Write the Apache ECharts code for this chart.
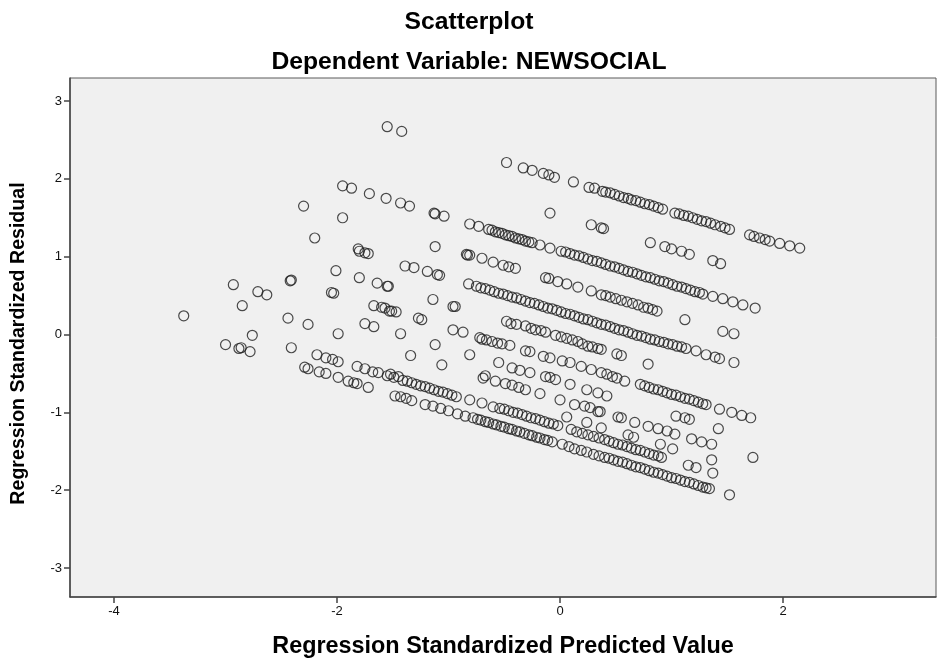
<!DOCTYPE html>
<html>
<head>
<meta charset="utf-8">
<script src="https://cdn.jsdelivr.net/npm/echarts@6/dist/echarts.min.js"></script>
<style>
  html, body { margin: 0; padding: 0; background: #ffffff; }
  #chart { width: 938px; height: 660px; }
</style>
</head>
<body>
<div id="chart"></div>
<script>
// Standardized predicted value vs standardized residual, one array per
// observed NEWSOCIAL score (each score forms its own diagonal band).
const level1 = [
  [-1.55,2.67],[-1.42,2.61],[-0.48,2.21],[-0.33,2.14],[-0.25,2.11],[-0.15,2.07],[-0.10,2.05],[-0.05,2.02],
  [0.12,1.96],[0.26,1.89],[0.31,1.88],[0.38,1.84],[0.41,1.83],[0.45,1.82],[0.49,1.80],[0.53,1.78],[0.57,1.76],
  [0.61,1.75],[0.64,1.73],[0.68,1.72],[0.72,1.70],[0.76,1.68],[0.80,1.67],[0.84,1.65],[0.88,1.63],[0.92,1.61],
  [1.03,1.56],[1.07,1.55],[1.11,1.53],[1.15,1.52],[1.19,1.50],[1.23,1.48],[1.27,1.46],[1.31,1.45],[1.35,1.43],
  [1.39,1.41],[1.44,1.39],[1.48,1.37],[1.52,1.35],[1.70,1.28],[1.74,1.26],[1.79,1.24],[1.84,1.22],[1.88,1.20],
  [1.97,1.17],[2.06,1.14],[2.15,1.11]
];
const level2 = [
  [-0.09,1.56],[0.28,1.41],[0.37,1.37],[0.39,1.36],[0.81,1.18],[0.94,1.13],[1.00,1.10],[1.09,1.07],[1.16,1.03],
  [1.37,0.95],[1.44,0.91]
];
const level3 = [
  [-1.95,1.91],[-1.87,1.88],[-1.71,1.81],[-1.56,1.75],[-1.43,1.69],[-1.35,1.65],[-1.13,1.56],[-1.12,1.55],[-1.04,1.52],
  [-0.81,1.42],[-0.73,1.39],[-0.64,1.35],[-0.61,1.34],[-0.58,1.32],[-0.55,1.31],[-0.52,1.30],[-0.49,1.28],[-0.46,1.27],
  [-0.43,1.26],[-0.40,1.24],[-0.37,1.23],[-0.34,1.22],[-0.31,1.20],[-0.28,1.19],[-0.25,1.18],[-0.18,1.15],[-0.09,1.11],
  [0.01,1.07],[0.05,1.06],[0.09,1.04],[0.13,1.02],[0.17,1.01],[0.21,0.99],[0.25,0.97],[0.29,0.95],[0.33,0.94],
  [0.37,0.92],[0.41,0.90],[0.45,0.88],[0.49,0.87],[0.53,0.85],[0.57,0.83],[0.61,0.81],[0.65,0.80],[0.69,0.78],
  [0.73,0.76],[0.77,0.74],[0.81,0.73],[0.85,0.71],[0.89,0.69],[0.93,0.68],[0.97,0.66],[1.01,0.64],[1.05,0.62],
  [1.09,0.61],[1.13,0.59],[1.17,0.57],[1.21,0.55],[1.25,0.54],[1.28,0.52],[1.37,0.49],[1.46,0.46],[1.55,0.42],
  [1.64,0.38],[1.75,0.34]
];
const level4 = [
  [-2.30,1.65],[-1.95,1.50],[-1.12,1.13],[-0.84,1.03],[-0.83,1.02],[-0.81,1.02],[-0.70,0.98],[-0.60,0.93],[-0.51,0.89],
  [-0.46,0.87],[-0.40,0.85],[-0.13,0.73],[-0.10,0.72],[-0.02,0.68],[0.06,0.65],[0.16,0.61],[0.28,0.56],[0.37,0.51],
  [0.41,0.50],[0.45,0.48],[0.50,0.46],[0.55,0.44],[0.60,0.42],[0.65,0.40],[0.70,0.38],[0.75,0.35],[0.79,0.34],
  [0.83,0.32],[0.87,0.30],[1.12,0.19],[1.46,0.04],[1.56,0.01]
];
const level5 = [
  [-2.20,1.24],[-1.81,1.10],[-1.80,1.07],[-1.75,1.05],[-1.72,1.04],[-1.39,0.88],[-1.31,0.86],[-1.19,0.81],[-1.10,0.77],
  [-1.08,0.76],[-0.82,0.65],[-0.75,0.62],[-0.71,0.60],[-0.67,0.59],[-0.63,0.57],[-0.59,0.55],[-0.55,0.53],[-0.51,0.52],
  [-0.47,0.50],[-0.43,0.48],[-0.39,0.47],[-0.35,0.45],[-0.31,0.43],[-0.27,0.41],[-0.23,0.40],[-0.19,0.38],[-0.15,0.36],
  [-0.11,0.34],[-0.07,0.33],[-0.03,0.31],[0.01,0.29],[0.05,0.27],[0.09,0.26],[0.13,0.24],[0.17,0.22],[0.21,0.20],
  [0.25,0.19],[0.29,0.17],[0.33,0.15],[0.37,0.13],[0.41,0.12],[0.45,0.10],[0.49,0.08],[0.53,0.06],[0.57,0.05],
  [0.61,0.03],[0.65,0.01],[0.69,-0.01],[0.73,-0.02],[0.77,-0.04],[0.81,-0.06],[0.85,-0.07],[0.89,-0.09],[0.93,-0.10],
  [0.97,-0.12],[1.01,-0.13],[1.05,-0.15],[1.09,-0.16],[1.13,-0.18],[1.22,-0.21],[1.31,-0.26],[1.39,-0.29],[1.43,-0.31],
  [1.56,-0.36]
];
const level6 = [
  [-2.01,0.82],[-1.80,0.73],[-1.64,0.66],[-1.55,0.62],[-1.54,0.62],[-1.14,0.45],[-0.96,0.36],[-0.94,0.36],
  [-0.48,0.17],[-0.44,0.14],[-0.39,0.13],[-0.31,0.11],[-0.26,0.08],[-0.22,0.06],[-0.17,0.05],[-0.13,0.03],[-0.04,-0.01],
  [0.01,-0.03],[0.06,-0.05],[0.11,-0.07],[0.16,-0.09],[0.20,-0.12],[0.25,-0.15],[0.29,-0.16],[0.34,-0.18],[0.37,-0.19],
  [0.51,-0.25],[0.55,-0.27],[0.79,-0.38]
];
const level7 = [
  [-2.42,0.69],[-2.41,0.70],[-2.05,0.54],[-2.03,0.53],[-1.67,0.37],[-1.60,0.35],[-1.57,0.34],[-1.53,0.30],[-1.51,0.30],
  [-1.47,0.29],[-1.27,0.21],[-1.24,0.19],[-0.96,0.06],[-0.87,0.03],[-0.72,-0.04],[-0.70,-0.06],[-0.66,-0.07],
  [-0.61,-0.09],[-0.56,-0.11],[-0.52,-0.12],[-0.45,-0.14],[-0.31,-0.21],[-0.27,-0.22],[-0.15,-0.28],[-0.09,-0.30],
  [0.02,-0.34],[0.09,-0.36],[0.19,-0.41],[0.28,-0.45],[0.37,-0.49],[0.42,-0.51],[0.47,-0.54],[0.51,-0.56],[0.58,-0.60],
  [0.72,-0.64],[0.76,-0.66],[0.80,-0.68],[0.84,-0.70],[0.88,-0.71],[0.92,-0.73],[0.96,-0.75],[1.00,-0.77],[1.04,-0.78],
  [1.08,-0.80],[1.12,-0.82],[1.16,-0.83],[1.20,-0.85],[1.24,-0.87],[1.28,-0.89],[1.31,-0.90],[1.43,-0.96],[1.54,-1.00],
  [1.63,-1.04],[1.71,-1.07]
];
const level8 = [
  [-2.93,0.64],[-2.71,0.55],[-2.63,0.51],[-1.75,0.14],[-1.67,0.10],[-1.43,0.01],[-1.12,-0.13],[-0.81,-0.26],
  [-0.55,-0.36],[-0.43,-0.43],[-0.36,-0.46],[-0.27,-0.49],[-0.13,-0.54],[-0.09,-0.55],[-0.04,-0.58],[0.09,-0.64],
  [0.24,-0.71],[0.34,-0.75],[0.42,-0.79],[1.04,-1.05],[1.12,-1.07],[1.16,-1.09],[1.42,-1.21]
];
const level9 = [
  [-2.85,0.37],[-2.44,0.21],[-2.26,0.13],[-1.99,0.01],[-1.34,-0.27],[-1.06,-0.39],[-0.69,-0.56],[-0.67,-0.53],
  [-0.58,-0.60],[-0.49,-0.63],[-0.43,-0.65],[-0.37,-0.68],[-0.31,-0.71],[-0.18,-0.76],[0.00,-0.84],[0.13,-0.90],
  [0.22,-0.92],[0.27,-0.94],[0.34,-0.99],[0.36,-0.99],[0.52,-1.06],[0.55,-1.07],[0.67,-1.13],[0.79,-1.18],[0.88,-1.21],
  [0.96,-1.24],[1.03,-1.28],[1.18,-1.34],[1.27,-1.38],[1.36,-1.41],[1.73,-1.58]
];
const level10 = [
  [0.06,-1.06],[0.24,-1.13],[0.37,-1.20],[0.61,-1.29],[0.66,-1.32],[0.90,-1.41],[1.01,-1.47],[1.36,-1.61]
];
const level11 = [
  [-3.375,0.24],
  [-2.76,-0.01],[-2.41,-0.17],[-2.18,-0.26],[-2.10,-0.30],[-2.04,-0.32],[-1.99,-0.35],[-1.82,-0.41],[-1.75,-0.44],
  [-1.68,-0.48],[-1.63,-0.49],[-1.55,-0.53],[-1.52,-0.51],[-1.49,-0.55],[-1.45,-0.54],[-1.41,-0.59],[-1.37,-0.60],
  [-1.33,-0.62],[-1.29,-0.64],[-1.25,-0.66],[-1.21,-0.67],[-1.17,-0.69],[-1.13,-0.71],[-1.09,-0.73],[-1.05,-0.74],
  [-1.01,-0.76],[-0.97,-0.78],[-0.93,-0.80],[-0.81,-0.84],[-0.70,-0.88],[-0.60,-0.93],[-0.54,-0.95],[-0.50,-0.96],
  [-0.46,-0.98],[-0.42,-1.00],[-0.38,-1.01],[-0.34,-1.03],[-0.30,-1.05],[-0.26,-1.07],[-0.22,-1.08],[-0.18,-1.10],
  [-0.14,-1.12],[-0.10,-1.14],[-0.06,-1.15],[-0.02,-1.17],[0.10,-1.22],[0.15,-1.25],[0.20,-1.27],[0.25,-1.29],
  [0.30,-1.31],[0.35,-1.33],[0.40,-1.35],[0.44,-1.37],[0.48,-1.39],[0.52,-1.41],[0.56,-1.42],[0.60,-1.44],[0.64,-1.46],
  [0.68,-1.48],[0.72,-1.49],[0.76,-1.51],[0.80,-1.53],[0.84,-1.55],[0.88,-1.56],[0.91,-1.58],[1.15,-1.68],[1.22,-1.71],
  [1.37,-1.78]
];
const level12 = [
  [-3.00,-0.13],[-2.88,-0.18],[-2.86,-0.17],[-2.78,-0.22],[-2.29,-0.42],[-2.26,-0.44],[-2.16,-0.48],[-2.10,-0.50],
  [-1.99,-0.55],[-1.90,-0.60],[-1.85,-0.62],[-1.82,-0.63],[-1.72,-0.68],[-1.48,-0.79],[-1.43,-0.80],[-1.38,-0.82],
  [-1.33,-0.85],[-1.21,-0.90],[-1.14,-0.92],[-1.07,-0.95],[-1.00,-0.98],[-0.92,-1.02],[-0.85,-1.05],[-0.78,-1.07],
  [-0.74,-1.09],[-0.71,-1.10],[-0.67,-1.12],[-0.64,-1.13],[-0.60,-1.15],[-0.57,-1.16],[-0.53,-1.18],[-0.50,-1.19],
  [-0.46,-1.21],[-0.43,-1.22],[-0.39,-1.24],[-0.36,-1.25],[-0.32,-1.27],[-0.28,-1.29],[-0.25,-1.30],[-0.21,-1.32],
  [-0.18,-1.33],[-0.14,-1.35],[-0.11,-1.36],[-0.07,-1.38],[0.02,-1.41],[0.08,-1.44],[0.13,-1.47],[0.19,-1.49],
  [0.24,-1.51],[0.30,-1.54],[0.35,-1.56],[0.40,-1.58],[0.44,-1.59],[0.48,-1.61],[0.52,-1.63],[0.56,-1.64],[0.60,-1.66],
  [0.64,-1.68],[0.68,-1.70],[0.72,-1.71],[0.76,-1.73],[0.80,-1.75],[0.84,-1.77],[0.88,-1.78],[0.92,-1.80],[0.96,-1.82],
  [1.00,-1.84],[1.04,-1.85],[1.08,-1.87],[1.12,-1.89],[1.16,-1.90],[1.20,-1.92],[1.24,-1.94],[1.28,-1.96],[1.31,-1.97],
  [1.34,-1.98],[1.52,-2.06]
];

const levels = [level1, level2, level3, level4, level5, level6, level7, level8, level9, level10, level11, level12];

const xTicks = [-4, -2, 0, 2];
const yTicks = [-3, -2, -1, 0, 1, 2, 3];

const chart = echarts.init(document.getElementById('chart'), null, { renderer: 'canvas' });

const FONT = '"Liberation Sans", Arial, sans-serif';

chart.setOption({
  animation: false,
  backgroundColor: '#ffffff',
  title: [
    {
      text: 'Scatterplot',
      left: 'center',
      top: 5,
      textStyle: { fontFamily: FONT, fontWeight: 'bold', fontSize: 24.7, color: '#000' }
    },
    {
      text: 'Dependent Variable: NEWSOCIAL',
      left: 'center',
      top: 45,
      textStyle: { fontFamily: FONT, fontWeight: 'bold', fontSize: 24.7, color: '#000' }
    }
  ],
  grid: {
    left: 70, right: 2, top: 78, bottom: 63,
    outerBoundsMode: 'none',
    containLabel: false,
    show: true,
    backgroundColor: '#f0f0f0',
    borderColor: '#5a5a5a',
    borderWidth: 1
  },
  xAxis: {
    type: 'value',
    min: -4.395,
    max: 3.372,
    name: 'Regression Standardized Predicted Value',
    nameLocation: 'middle',
    nameGap: 38,
    nameTextStyle: { fontFamily: FONT, fontWeight: 'bold', fontSize: 23.4, color: '#000' },
    splitLine: { show: false },
    axisLine: { show: true, onZero: false, lineStyle: { color: '#444', width: 1.5 } },
    axisTick: { show: true, length: 6, customValues: xTicks, lineStyle: { color: '#444', width: 1.5 } },
    axisLabel: { customValues: xTicks, fontFamily: FONT, fontSize: 13, color: '#111', margin: 8 }
  },
  yAxis: {
    type: 'value',
    min: -3.373,
    max: 3.296,
    name: 'Regression Standardized Residual',
    nameLocation: 'middle',
    nameGap: 41,
    nameTextStyle: { fontFamily: FONT, fontWeight: 'bold', fontSize: 19.6, color: '#000', padding: [0, 12, 0, 0] },
    splitLine: { show: false },
    axisLine: { show: true, onZero: false, lineStyle: { color: '#444', width: 1.5 } },
    axisTick: { show: true, length: 6, customValues: yTicks, lineStyle: { color: '#444', width: 1.5 } },
    axisLabel: { customValues: yTicks, fontFamily: FONT, fontSize: 13, color: '#111', margin: 8 }
  },
  series: [{
    type: 'scatter',
    data: levels.flat(),
    symbol: 'circle',
    symbolSize: 10,
    itemStyle: { color: 'rgba(0,0,0,0)', borderColor: '#1f1f1f', borderWidth: 1.2 },
    emphasis: { disabled: true }
  }]
});
</script>
</body>
</html>
